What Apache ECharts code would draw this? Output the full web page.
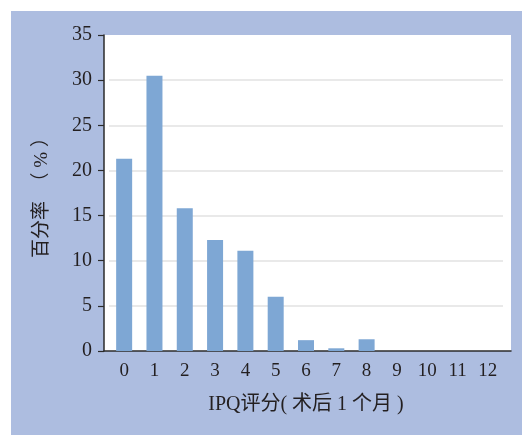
<!DOCTYPE html>
<html>
<head>
<meta charset="utf-8">
<script src="https://cdn.jsdelivr.net/npm/echarts@6/dist/echarts.min.js"></script>
<style>
html,body{margin:0;padding:0;background:#fff;}
#c{width:522px;height:435px;}
</style>
</head>
<body>
<div id="c"></div>
<script>
var categories = ['0','1','2','3','4','5','6','7','8','9','10','11','12'];
var values = [21.3, 30.5, 15.8, 12.3, 11.1, 6.0, 1.2, 0.3, 1.3, 0, 0, 0, 0];
var yTicks = { min: 0, max: 35, interval: 5 };
var xName = 'IPQ评分( 术后 1 个月 )';
var yName = '百分率  （ % ）';

var FONT = '"Liberation Serif", "Noto Sans CJK SC", serif';
var TEXT = '#231f20';

var chart = echarts.init(document.getElementById('c'), null, {renderer: 'canvas'});
chart.setOption({
  backgroundColor: '#ffffff',
  animation: false,
  graphic: [
    { type: 'rect', z: -20, shape: { x: 11, y: 11, width: 511, height: 424 }, style: { fill: '#adbde0' }, silent: true },
    { type: 'rect', z: -19, shape: { x: 104, y: 35, width: 407, height: 316 }, style: { fill: '#ffffff' }, silent: true }
  ],
  grid: [
    { left: 109, right: 19, top: 35, bottom: 84 },
    { left: 104, right: 11, top: 35, bottom: 84 }
  ],
  xAxis: [
    {
      type: 'category', gridIndex: 0, data: categories,
      axisLine: { show: false }, axisTick: { show: false },
      axisLabel: { fontFamily: FONT, fontSize: 19, color: TEXT, margin: 11 },
      name: xName, nameLocation: 'middle', nameGap: 44,
      nameTextStyle: { fontFamily: FONT, fontSize: 20, color: TEXT }
    },
    {
      type: 'value', gridIndex: 1, min: 0, max: 1,
      axisLine: { show: true, lineStyle: { color: '#2b2b2b', width: 1.5 } },
      axisTick: { show: false }, axisLabel: { show: false }, splitLine: { show: false }
    }
  ],
  yAxis: [
    {
      type: 'value', gridIndex: 0, min: yTicks.min, max: yTicks.max, interval: yTicks.interval,
      axisLine: { show: false }, axisTick: { show: false }, axisLabel: { show: false },
      splitLine: { show: true, showMinLine: false, showMaxLine: false,
        lineStyle: { color: ['#e2e2e2','#e2e2e2','#e2e2e2','#e2e2e2','#e2e2e2','#e2e2e2','#e2e2e2','rgba(0,0,0,0)'], width: 1.5 } }
    },
    {
      type: 'value', gridIndex: 1, min: yTicks.min, max: yTicks.max, interval: yTicks.interval,
      axisLine: { show: true, lineStyle: { color: '#2b2b2b', width: 1.5 } },
      axisTick: { show: true, length: 6, lineStyle: { color: '#2b2b2b', width: 1.2 } },
      axisLabel: { fontFamily: FONT, fontSize: 20, color: TEXT, margin: 12 },
      splitLine: { show: false },
      name: yName, nameLocation: 'middle', nameGap: 52, nameRotate: 90,
      nameTextStyle: { fontFamily: FONT, fontSize: 19, color: TEXT }
    }
  ],
  series: [
    {
      type: 'bar', xAxisIndex: 0, yAxisIndex: 0, data: values,
      barWidth: 16, itemStyle: { color: '#7ea7d4' }
    }
  ]
});
</script>
</body>
</html>
